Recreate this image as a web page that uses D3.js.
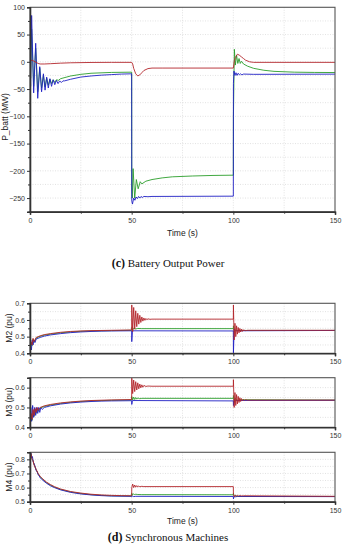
<!DOCTYPE html>
<html><head><meta charset="utf-8">
<script src="https://cdn.jsdelivr.net/npm/d3@7"></script>
<style>
html,body{margin:0;padding:0;background:#fff;}
svg{display:block;}
.tick text{font-family:"Liberation Sans",Arial,sans-serif;}
</style></head>
<body>
<svg id="chart" width="344" height="550"></svg>
<script>
// ---------- DATA ----------
const xTicks = [0, 50, 100, 150];
const battTicks = [-250, -200, -150, -100, -50, 0, 50, 100];
const m2Ticks = [0.4, 0.5, 0.6, 0.7];
const m3Ticks = [0.4, 0.5, 0.6];
const m4Ticks = [0.5, 0.6, 0.7, 0.8];

const battRed = [[0,2],[1,3],[2,1],[3,-1],[4,-3],[5,-4],[7,-4],[10,-3.5],[15,-2.5],[20,-1.8],[30,-1.2],[40,-1],[50,-1],[50.5,-4],[51,-12],[52,-22],[53,-26],[54,-24],[55,-20],[56,-16],[58,-12.5],[60,-11.5],[65,-11.5],[100,-11.5],[100.5,2],[101,8],[102,14],[103,12],[104,9],[105,6],[106,3],[108,0],[110,-1],[150,-1]];
const battGreen = [[0,0],[0.3,-30],[0.8,60],[1.8,-45],[2.8,25],[3.8,-55],[4.8,-12],[5.7,-48],[6.6,-25],[7.4,-46],[8.2,-30],[9,-43],[9.8,-32],[10.6,-40],[11.4,-33],[12.2,-38],[13,-33],[14,-34],[15,-31],[20,-26],[25,-23],[30,-21],[40,-19.5],[50,-19],[50.05,-230],[50.3,-250],[50.7,-196],[51.5,-250],[52.3,-216],[53.2,-233],[54.2,-220],[55,-224],[57,-219],[60,-216],[65,-213],[70,-211],[80,-209.5],[90,-208.5],[100,-208],[100.05,-100],[100.5,23],[101,-6],[101.6,12],[102.2,-3],[102.8,6],[103.4,-3],[104,1],[105,-4],[107,-8],[110,-12],[115,-15.5],[120,-17.5],[130,-19],[140,-19.5],[150,-19.7]];
const battBlue = [[0,0],[0.3,-45],[0.8,85],[1.8,-57],[2.8,34],[3.8,-67],[4.8,-9],[5.7,-55],[6.6,-22],[7.4,-52],[8.2,-28],[9,-48],[9.8,-31],[10.6,-45],[11.4,-33],[12.2,-42],[13,-34],[13.8,-40],[14.6,-35],[15.4,-38],[16.2,-35],[17,-35],[20,-32],[25,-28],[30,-26],[35,-24.5],[40,-23.5],[45,-22.5],[50,-22],[50.05,-255],[50.4,-261],[51,-250],[51.6,-254],[52.2,-248],[52.8,-251],[53.4,-247],[54,-250],[54.6,-247],[55.2,-249],[56,-247],[58,-247.5],[60,-247],[100,-246.5],[100.05,-40],[100.3,-17],[100.8,-25],[101.3,-20],[101.8,-25],[102.4,-21],[103,-24],[103.6,-22],[104.2,-24],[105,-22.5],[110,-23],[150,-22.6]];

const m2Red = [[0,0.44],[0.5,0.47],[1,0.45],[1.5,0.49],[2,0.47],[3,0.495],[4,0.5],[5,0.505],[7,0.512],[10,0.518],[15,0.526],[20,0.531],[25,0.534],[30,0.536],[40,0.538],[50,0.54],[50.05,0.69],[50.5,0.53],[51,0.675],[51.5,0.545],[52,0.655],[52.5,0.56],[53,0.64],[53.5,0.575],[54,0.628],[54.5,0.585],[55,0.618],[55.5,0.593],[56,0.612],[56.5,0.598],[57,0.609],[57.5,0.601],[58,0.607],[59,0.604],[60,0.605],[100,0.605],[100.05,0.69],[100.4,0.48],[100.8,0.58],[101.2,0.5],[101.6,0.565],[102,0.515],[102.4,0.555],[102.8,0.523],[103.2,0.549],[103.6,0.528],[104,0.545],[104.4,0.531],[104.8,0.542],[105.2,0.534],[105.6,0.54],[106,0.536],[107,0.538],[150,0.538]];
const m2Green = [[0,0.435],[0.5,0.465],[1,0.445],[1.5,0.485],[2,0.465],[3,0.49],[4,0.497],[5,0.502],[7,0.509],[10,0.515],[15,0.523],[20,0.528],[25,0.532],[30,0.534],[40,0.536],[50,0.538],[50.05,0.555],[50.5,0.54],[51,0.55],[52,0.546],[53,0.549],[55,0.548],[100,0.548],[100.05,0.565],[100.4,0.53],[101,0.54],[102,0.537],[150,0.537]];
const m2Blue = [[0,0.43],[0.3,0.46],[0.7,0.42],[1.1,0.48],[1.5,0.45],[2,0.48],[2.5,0.465],[3,0.485],[4,0.49],[5,0.495],[7,0.503],[10,0.51],[15,0.518],[20,0.524],[25,0.528],[30,0.531],[35,0.533],[40,0.534],[50,0.535],[50.05,0.47],[50.4,0.535],[100,0.534],[100.05,0.40],[100.4,0.545],[101,0.535],[150,0.537]];

const m3Red = [[0,0.42],[0.5,0.47],[1,0.44],[1.5,0.49],[2,0.46],[2.5,0.495],[3,0.475],[3.5,0.5],[4,0.485],[5,0.5],[7,0.508],[10,0.515],[15,0.523],[20,0.528],[25,0.532],[30,0.535],[40,0.538],[50,0.54],[50.05,0.648],[50.5,0.57],[51,0.638],[51.5,0.58],[52,0.63],[52.5,0.588],[53,0.624],[53.5,0.594],[54,0.618],[54.5,0.599],[55,0.614],[55.5,0.602],[56,0.611],[57,0.606],[58,0.608],[60,0.607],[100,0.607],[100.05,0.64],[100.4,0.5],[100.8,0.575],[101.2,0.51],[101.6,0.565],[102,0.518],[102.4,0.556],[102.8,0.525],[103.2,0.549],[103.6,0.53],[104,0.545],[104.5,0.533],[105,0.541],[105.5,0.535],[106,0.539],[107,0.537],[150,0.537]];
const m3Green = [[0,0.415],[0.5,0.465],[1,0.435],[1.5,0.485],[2,0.455],[2.5,0.49],[3,0.47],[3.5,0.495],[4,0.48],[5,0.497],[7,0.505],[10,0.512],[15,0.52],[20,0.526],[25,0.53],[30,0.533],[40,0.536],[50,0.538],[50.05,0.555],[50.5,0.538],[51,0.552],[51.5,0.54],[52,0.55],[52.5,0.542],[53,0.548],[54,0.544],[55,0.546],[100,0.546],[100.05,0.56],[100.4,0.525],[101,0.545],[102,0.535],[103,0.539],[150,0.537]];
const m3Blue = [[0,0.41],[0.4,0.5],[0.8,0.43],[1.3,0.51],[1.8,0.45],[2.3,0.5],[2.8,0.46],[3.3,0.5],[3.8,0.47],[4.3,0.5],[4.8,0.475],[5.3,0.498],[6,0.49],[7,0.5],[10,0.508],[15,0.517],[20,0.523],[25,0.527],[30,0.53],[35,0.532],[40,0.533],[50,0.534],[50.05,0.515],[50.4,0.535],[100,0.533],[100.05,0.51],[100.5,0.54],[101,0.535],[150,0.536]];

const m4Red = [[0,0.83],[0.5,0.84],[1,0.8],[1.5,0.79],[2,0.76],[3,0.73],[4,0.7],[5,0.68],[6,0.665],[8,0.64],[10,0.622],[12,0.607],[15,0.59],[20,0.572],[25,0.561],[30,0.553],[35,0.548],[40,0.545],[45,0.543],[50,0.542],[50.05,0.6],[50.5,0.625],[51,0.6],[51.5,0.618],[52,0.603],[52.5,0.614],[53,0.605],[53.5,0.611],[54,0.606],[55,0.609],[56,0.607],[100,0.607],[100.05,0.55],[100.5,0.535],[101,0.548],[101.5,0.538],[102,0.546],[102.5,0.54],[103,0.544],[104,0.541],[105,0.542],[150,0.538]];
const m4Green = [[0,0.825],[0.5,0.84],[1,0.805],[1.5,0.79],[2,0.765],[3,0.727],[4,0.697],[5,0.676],[6,0.661],[8,0.636],[10,0.618],[12,0.603],[15,0.587],[20,0.569],[25,0.558],[30,0.55],[35,0.545],[40,0.542],[50,0.54],[50.05,0.56],[50.5,0.548],[51,0.555],[51.5,0.55],[52,0.553],[53,0.551],[55,0.55],[100,0.549],[100.05,0.56],[100.5,0.535],[101,0.54],[103,0.537],[150,0.537]];
const m4Blue = [[0,0.82],[0.4,0.845],[0.8,0.81],[1.2,0.82],[1.6,0.78],[2,0.77],[2.5,0.75],[3,0.72],[3.5,0.715],[4,0.69],[4.5,0.685],[5,0.67],[6,0.655],[8,0.632],[10,0.613],[12,0.6],[15,0.584],[20,0.566],[25,0.555],[30,0.548],[35,0.543],[40,0.54],[50,0.538],[50.05,0.535],[50.5,0.54],[51,0.536],[52,0.538],[100,0.537],[100.05,0.52],[100.5,0.54],[101,0.535],[102,0.537],[150,0.536]];

// ---------- DRAW ----------
const colors = {red:"#b3262b", green:"#2b9e2b", blue:"#1f1fc4"};
const svg = d3.select("#chart");
const X0 = 30, X1 = 335;

const panels = [
  {id:"batt", top:7.3, bottom:211.7, domain:[-275,100], ticks:battTicks, minorStep:25, gridStep:25, label:"P_batt (MW)", labelY:117, labelX:8,
   fmt:d=>d3.format("d")(d), series:[battGreen,battBlue,battRed]},
  {id:"m2", top:303.3, bottom:353.3, domain:[0.4,0.7], ticks:m2Ticks, minorStep:0.05, gridStep:0.05, label:"M2 (pu)", labelY:328, labelX:12,
   fmt:d=>d3.format(".1f")(d), series:[m2Green,m2Blue,m2Red]},
  {id:"m3", top:377.7, bottom:427.3, domain:[0.4,0.65], ticks:m3Ticks, minorStep:0.05, gridStep:0.05, label:"M3 (pu)", labelY:402, labelX:12,
   fmt:d=>d3.format(".1f")(d), series:[m3Green,m3Blue,m3Red]},
  {id:"m4", top:452.3, bottom:501.7, domain:[0.5,0.85], ticks:m4Ticks, minorStep:0.05, gridStep:0.05, label:"M4 (pu)", labelY:477, labelX:12,
   fmt:d=>d3.format(".1f")(d), series:[m4Green,m4Blue,m4Red]}
];
const seriesColors = [colors.green, colors.blue, colors.red];

const x = d3.scaleLinear().domain([0,150]).range([X0,X1]);
const xMinor = [25,75,125];

panels.forEach(p => {
  const y = d3.scaleLinear().domain(p.domain).range([p.bottom, p.top]);
  const g = svg.append("g");
  // grid
  const nG = Math.round((p.domain[1]-p.domain[0])/p.gridStep);
  const gy = d3.range(1, nG).map(i => p.domain[0] + i*p.gridStep);
  g.append("g").selectAll("line").data(gy).join("line")
    .attr("x1",X0).attr("x2",X1).attr("y1",d=>y(d)).attr("y2",d=>y(d))
    .attr("stroke","#cfcfcf").attr("stroke-width",0.6).attr("stroke-dasharray","1,1.5");
  g.append("g").selectAll("line").data([25,50,75,100,125]).join("line")
    .attr("y1",p.top).attr("y2",p.bottom).attr("x1",d=>x(d)).attr("x2",d=>x(d))
    .attr("stroke","#cfcfcf").attr("stroke-width",0.6).attr("stroke-dasharray","1,1.5");
  // clip
  svg.append("clipPath").attr("id","clip-"+p.id).append("rect")
    .attr("x",X0).attr("y",p.top).attr("width",X1-X0).attr("height",p.bottom-p.top);
  const line = d3.line().x(d=>x(d[0])).y(d=>y(d[1]));
  const lg = g.append("g").attr("clip-path","url(#clip-"+p.id+")");
  p.series.forEach((s,i) => {
    lg.append("path").datum(s).attr("d",line).attr("fill","none")
      .attr("stroke",seriesColors[i]).attr("stroke-width",0.9).attr("stroke-linejoin","round");
  });
  // frame
  g.append("rect").attr("x",X0).attr("y",p.top).attr("width",X1-X0).attr("height",p.bottom-p.top)
    .attr("fill","none").attr("stroke","#555").attr("stroke-width",1.1);
  // y axis
  const yMinorVals = d3.range(0, nG+1).map(i => p.domain[0] + i*p.minorStep)
    .filter(v => !p.ticks.some(t => Math.abs(t-v)<1e-9));
  const yAx = g.append("g").attr("transform",`translate(${X0},0)`)
    .call(d3.axisLeft(y).tickValues(p.ticks).tickFormat(p.fmt).tickSize(3).tickPadding(2));
  g.append("g").attr("transform",`translate(${X0},0)`)
    .call(d3.axisLeft(y).tickValues(yMinorVals).tickFormat("").tickSize(2))
    .call(a=>a.select(".domain").remove());
  yAx.select(".domain").attr("stroke","#333").attr("stroke-width",1.6);
  // x axis
  const xAx = g.append("g").attr("transform",`translate(0,${p.bottom})`)
    .call(d3.axisBottom(x).tickValues(xTicks).tickFormat(d3.format("d")).tickSize(3).tickPadding(3));
  g.append("g").attr("transform",`translate(0,${p.bottom})`)
    .call(d3.axisBottom(x).tickValues(xMinor).tickFormat("").tickSize(2))
    .call(a=>a.select(".domain").remove());
  xAx.select(".domain").attr("stroke","#333").attr("stroke-width",1.6);
  g.selectAll(".tick line").attr("stroke","#333");
  g.selectAll(".tick text").attr("font-size",7).attr("fill","#333");
  // y label
  g.append("text").attr("transform",`translate(${p.labelX},${p.labelY}) rotate(-90)`)
    .attr("text-anchor","middle").attr("font-family","Liberation Sans, Arial, sans-serif")
    .attr("font-size",8.5).attr("fill","#222").text(p.label);
});

// x titles
[236, 524].forEach(yy => {
  svg.append("text").attr("x",(X0+X1)/2).attr("y",yy).attr("text-anchor","middle")
    .attr("font-family","Liberation Sans, Arial, sans-serif").attr("font-size",8.5).attr("fill","#222").text("Time (s)");
});

// captions
const cap1 = svg.append("text").attr("x",168).attr("y",267).attr("text-anchor","middle")
  .attr("font-family","Liberation Serif, Times New Roman, serif").attr("font-size",11).attr("fill","#111");
cap1.append("tspan").attr("font-weight","bold").attr("font-size",12).text("(c)");
cap1.append("tspan").text(" Battery Output Power");
const cap2 = svg.append("text").attr("x",168).attr("y",541).attr("text-anchor","middle")
  .attr("font-family","Liberation Serif, Times New Roman, serif").attr("font-size",11).attr("fill","#111");
cap2.append("tspan").attr("font-weight","bold").attr("font-size",12).text("(d)");
cap2.append("tspan").text(" Synchronous Machines");
</script>
</body></html>
